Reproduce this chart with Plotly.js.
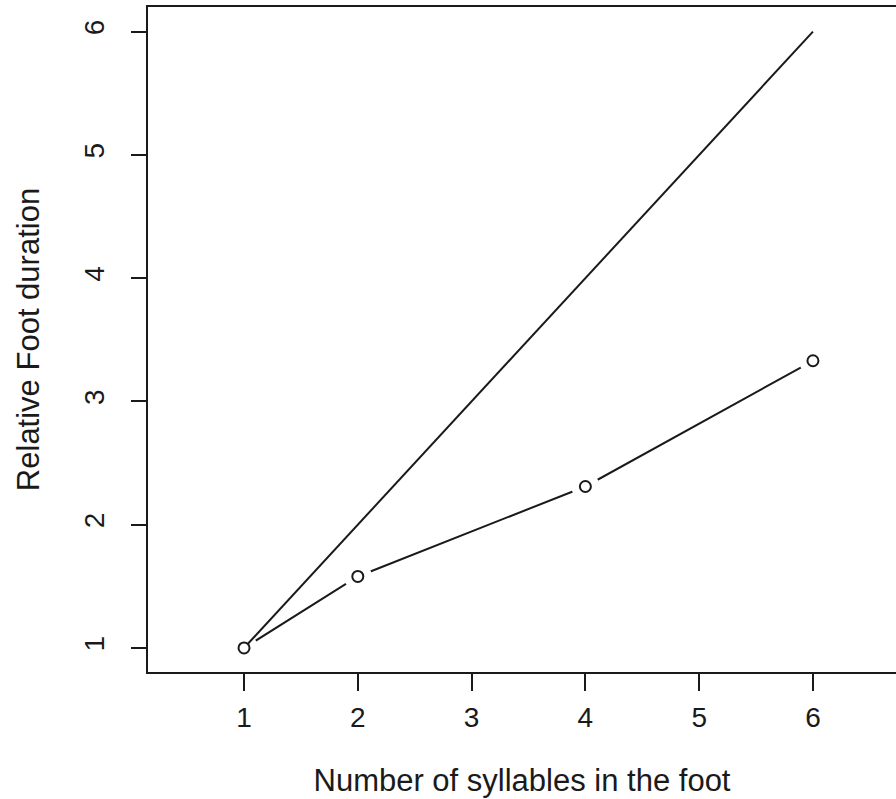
<!DOCTYPE html>
<html>
<head>
<meta charset="utf-8">
<script src="https://cdn.plot.ly/plotly-3.0.1.min.js"></script>
<style>html,body{margin:0;padding:0;background:#fff;}#chart{width:896px;height:799px;}</style>
</head>
<body>
<div id="chart"></div>
<script>
// Data
const syllables = [1, 2, 4, 6];
const identityDuration = [1, 2, 4, 6];
const relativeFootDuration = [1, 1.58, 2.31, 3.33];
const xTickVals = [1, 2, 3, 4, 5, 6];
const yTickVals = [1, 2, 3, 4, 5, 6];

const ink = '#1a1a1a';
const fontFam = '"Liberation Sans", Arial, Helvetica, sans-serif';

const traces = [
  { type: 'scatter', x: syllables, y: relativeFootDuration, mode: 'lines', line: {color: ink, width: 2}, hoverinfo: 'skip', showlegend: false },
  { type: 'scatter', x: syllables, y: relativeFootDuration, mode: 'markers', marker: {symbol: 'circle', size: 28, color: 'rgb(255,255,255)', opacity: 1, line: {width: 0, color: 'rgb(255,255,255)'}}, hoverinfo: 'skip', showlegend: false },
  { type: 'scatter', x: syllables, y: identityDuration, mode: 'lines', line: {color: ink, width: 2}, showlegend: false },
  { type: 'scatter', x: syllables, y: relativeFootDuration, mode: 'markers', marker: {symbol: 'circle', size: 11, color: '#ffffff', line: {color: ink, width: 2}}, showlegend: false }
];

const layout = {
  width: 896, height: 799,
  margin: {l: 148, r: 0, t: 7, b: 127},
  paper_bgcolor: '#ffffff', plot_bgcolor: '#ffffff',
  font: {family: fontFam, color: ink, size: 30},
  showlegend: false,
  xaxis: {
    range: [0.156, 6.73], tickvals: xTickVals, ticktext: xTickVals.map(String),
    showgrid: false, zeroline: false,
    showline: true, mirror: true, linecolor: ink, linewidth: 2,
    ticks: 'outside', ticklen: 17, tickwidth: 2, tickcolor: ink,
    ticklabelstandoff: 2,
    tickfont: {size: 28, family: fontFam, color: ink},
    title: {text: 'Number of syllables in the foot', font: {size: 31, family: fontFam, color: ink}, standoff: 38}
  },
  yaxis: {
    range: [0.805, 6.2], tickvals: yTickVals, ticktext: yTickVals.map(String),
    showgrid: false, zeroline: false,
    showline: true, mirror: false, linecolor: ink, linewidth: 2,
    ticks: 'outside', ticklen: 15, tickwidth: 2, tickcolor: ink,
    tickangle: -90, ticklabelstandoff: 16,
    tickfont: {size: 28, family: fontFam, color: ink},
    title: {text: 'Relative Foot duration', font: {size: 31, family: fontFam, color: ink}, standoff: 30}
  }
};

Plotly.newPlot('chart', traces, layout, {staticPlot: true, displayModeBar: false});
</script>
</body>
</html>
